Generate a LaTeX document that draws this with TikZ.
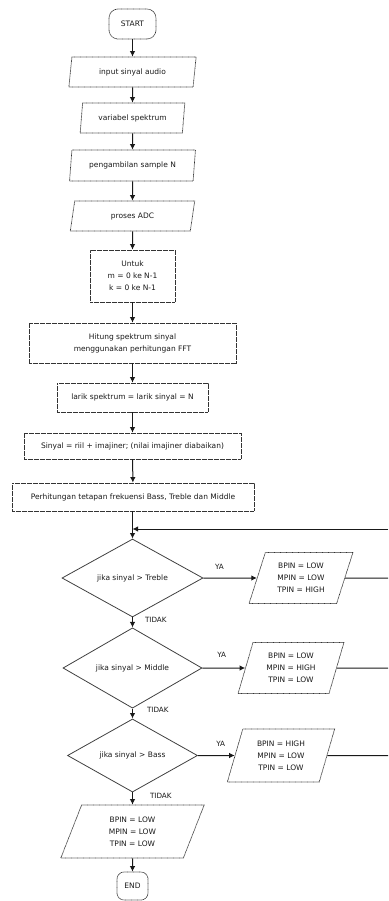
\documentclass[tikz,border=0pt]{standalone}
\usepackage{fontspec}
\setmainfont{DejaVu Sans}
\usetikzlibrary{shapes.geometric,arrows.meta}
\begin{document}
\begin{tikzpicture}[x=1pt,y=-1pt,
  every node/.style={font=\fontsize{7.5}{12}\selectfont, text=black!90, inner sep=0pt, align=center},
  dotb/.style={draw=black!80, line width=0.7pt, dash pattern=on 0.7pt off 0.5pt},
  term/.style={dotb, rectangle, rounded corners=9pt},
  proc/.style={dotb, rectangle},
  io/.style={dotb, trapezium, trapezium stretches=true},
  dec/.style={draw=black!75, line width=0.8pt, diamond},
  arr/.style={draw=black!90, line width=1pt, -{Latex[length=5.5pt,width=5.5pt]}},
  ln/.style={draw=black!90, line width=1pt},
  lbl/.style={font=\fontsize{7.2}{8}\selectfont}]
\useasboundingbox (0,0) rectangle (388,901);

\node[term, minimum width=47pt, minimum height=30pt] (start) at (132.5,24) {START};
\node[io, trapezium left angle=77, trapezium right angle=103, minimum width=128pt, minimum height=30pt] (in1) at (132.5,72) {input sinyal audio};
\node[io, trapezium left angle=77, trapezium right angle=103, minimum width=105pt, minimum height=30pt] (in2) at (132.5,118) {variabel spektrum};
\node[io, trapezium left angle=77, trapezium right angle=103, minimum width=126pt, minimum height=31pt] (in3) at (132.5,165.5) {pengambilan sample N};
\node[io, trapezium left angle=77, trapezium right angle=103, minimum width=125pt, minimum height=30pt] (in4) at (132.5,216) {proses ADC};
\node[proc, minimum width=85pt, minimum height=52pt] (untuk) at (132.5,276) {Untuk\\m = 0 ke N-1\\k = 0 ke N-1};
\node[proc, minimum width=207pt, minimum height=40pt] (fft) at (132.5,343) {Hitung spektrum sinyal\\menggunakan perhitungan FFT};
\node[proc, minimum width=151pt, minimum height=29pt] (larik) at (132.5,397.5) {larik spektrum = larik sinyal = N};
\node[proc, minimum width=217pt, minimum height=26pt] (riil) at (132.5,446) {Sinyal = riil + imajiner; (nilai imajiner diabaikan)};
\node[proc, minimum width=242pt, minimum height=28pt] (freq) at (133,497) {Perhitungan tetapan frekuensi Bass, Treble dan Middle};

\node[dec, minimum width=141pt, minimum height=65pt] (d1) at (132.5,578) {jika sinyal > Treble};
\node[io, trapezium left angle=70, trapezium right angle=110, minimum width=104pt, minimum height=51pt] (p1) at (301,578) {BPIN = LOW\\MPIN = LOW\\TPIN = HIGH};
\node[dec, minimum width=139pt, minimum height=69pt] (d2) at (132.5,668) {jika sinyal > Middle};
\node[io, trapezium left angle=72, trapezium right angle=108, minimum width=106pt, minimum height=51pt] (p2) at (291,668) {BPIN = LOW\\MPIN = HIGH\\TPIN = LOW};
\node[dec, minimum width=130pt, minimum height=64pt] (d3) at (132.5,755.5) {jika sinyal > Bass};
\node[io, trapezium left angle=72, trapezium right angle=108, minimum width=108pt, minimum height=53pt] (p3) at (281,755.5) {BPIN = HIGH\\MPIN = LOW\\TPIN = LOW};
\node[io, trapezium left angle=72, trapezium right angle=108, minimum width=144pt, minimum height=53pt] (p4) at (132.5,831.5) {BPIN = LOW\\MPIN = LOW\\TPIN = LOW};
\node[term, minimum width=31pt, minimum height=28pt, rounded corners=7pt] (end) at (132.5,886) {END};

\coordinate (r1) at (388,578);
\coordinate (r2) at (388,668);
\coordinate (r3) at (388,755.5);
\coordinate (fbR) at (388,529);
\coordinate (fbJ) at (132.5,529);

\draw[arr] (start) -- (in1);
\draw[arr] (in1) -- (in2);
\draw[arr] (in2) -- (in3);
\draw[arr] (in3) -- (in4);
\draw[arr] (in4) -- (untuk);
\draw[arr] (untuk) -- (fft);
\draw[arr] (fft) -- (larik);
\draw[arr] (larik) -- (riil);
\draw[arr] (riil) -- (freq);
\draw[arr] (freq.south -| d1) -- (d1);
\draw[arr] (fbR) -- (fbJ);

\draw[arr] (d1) -- node[lbl, pos=0.3, above=8pt] {YA} (p1);
\draw[arr] (d2) -- node[lbl, pos=0.45, above=10pt] {YA} (p2);
\draw[arr] (d3) -- node[lbl, pos=0.62, above=9pt] {YA} (p3);
\draw[arr] (d1) -- node[lbl, pos=0.25, right=12pt] {TIDAK} (d2);
\draw[arr] (d2) -- node[lbl, pos=0.1, right=14pt] {TIDAK} (d3);
\draw[arr] (d3) -- node[lbl, pos=0.28, right=17pt] {TIDAK} (p4);
\draw[arr] (p4) -- (end);

\draw[ln] (p1) -- (r1);
\draw[ln] (p2) -- (r2);
\draw[ln] (p3) -- (r3);
\end{tikzpicture}
\end{document}
